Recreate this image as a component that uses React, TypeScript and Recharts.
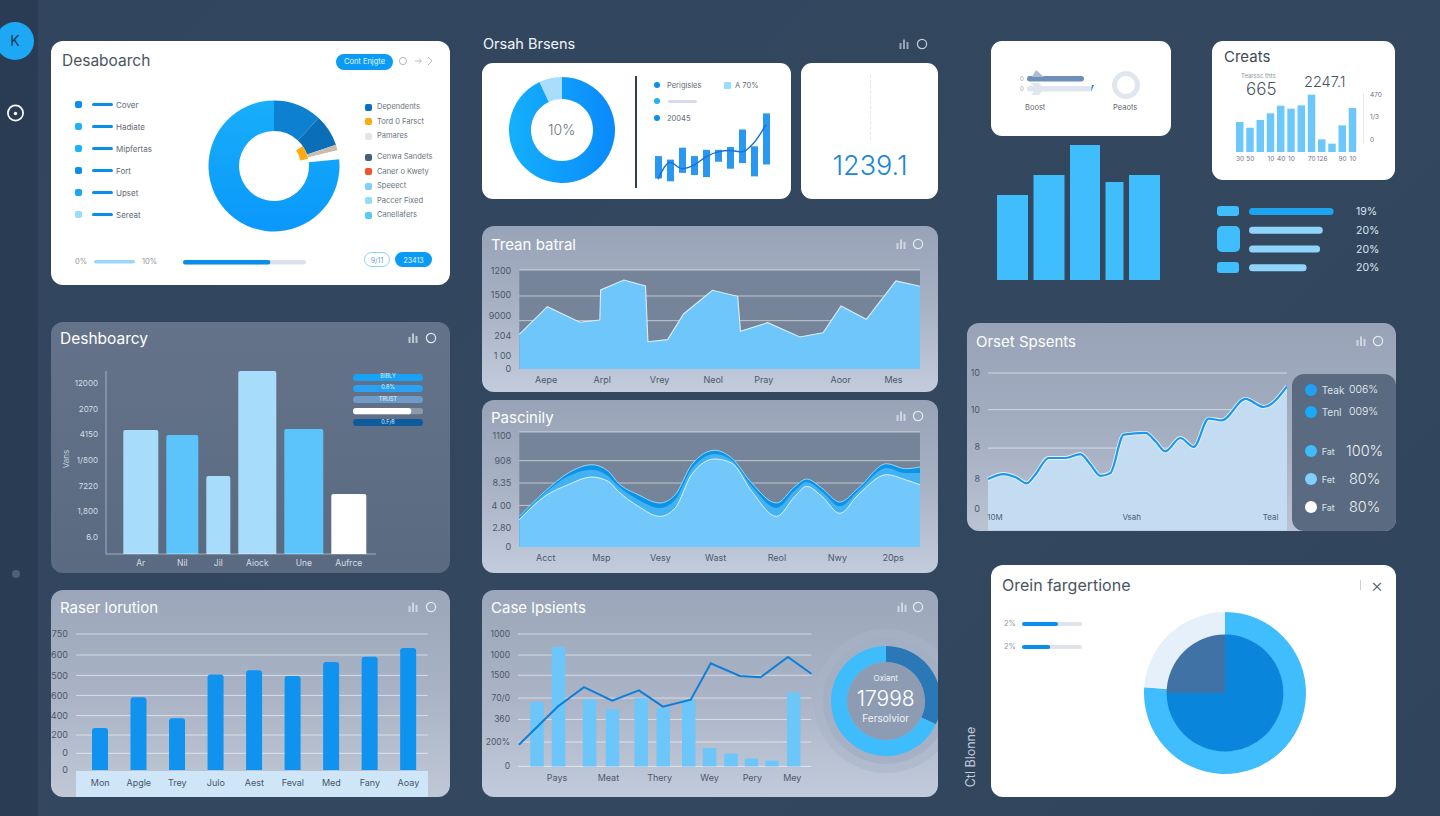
import type { CSSProperties, ReactNode } from 'react';
import {
  Area,
  AreaChart,
  Bar,
  BarChart,
  CartesianGrid,
  Cell,
  ComposedChart,
  Line,
  Pie,
  PieChart,
  Rectangle,
  XAxis,
  YAxis,
} from 'recharts';

const FONT = 'Inter, "Noto Sans", sans-serif';

// Main donut card
const mainSlices = [43, 28, 5, 8, 276];
const mainAccent = [55, 23, 282];
const leftLegend = ['Cover', 'Hadiate', 'Mipfertas', 'Fort', 'Upset', 'Sereat'];
const rightLegend = ['Dependents', 'Tord 0 Farsct', 'Pamares', 'Cenwa Sandets', 'Caner o Kwety', 'Speeect', 'Paccer Fixed', 'Canellafers'];

// Orsah Brsens
const orsahSlices = [335, 25];
const orsahCandles: [number, number][] = [[5, 37], [1, 32], [13, 49], [10, 37], [7, 46], [29, 46], [19, 50], [27, 75], [8, 51], [25, 98]];
const orsahLine = [4, 28, 19, 24, 36, 43, 45, 43, 56, 82];

// Top right
const bigBarValues = [85, 105, 135, 98, 105];
const creatsLabels = ['30', '50', '', '10', '40', '10', '', '70', '126', '', '90', '10'];
const creatsValues = [90, 73, 96, 116, 139, 130, 140, 172, 38, 25, 80, 132];
const creatsTicks = [37, 106, 172];
const creatsTickLabels = ['0', '1/3', '470'];
const rowValues = [94, 82, 79, 64];
const rowPercents = ['19%', '20%', '20%', '20%'];

// Deshboarcy
const deshLabels = ['Ar', 'Nil', 'Jil', 'Aiock', 'Une', 'Aufrce'];
const deshValues = [124, 119, 78, 183, 125, 60];
const deshTicks = [17, 43, 68, 94, 120, 145, 171];
const deshTickLabels = ['6.0', '1,800', '7220', '1/800', '4150', '2070', '12000'];

// Trean batral
const treanX = [0, 7, 15.1, 20.1, 20.3, 26.1, 31.5, 32.1, 37, 41, 48.2, 54.5, 55.2, 62, 70, 75.8, 80.3, 86.6, 94, 100];
const treanValues = [420, 756, 566, 594, 958, 1079, 1006, 331, 356, 667, 954, 881, 457, 562, 388, 440, 764, 602, 1067, 1002];
const treanTicks = [0, 160, 400, 640, 900, 1190];
const treanTickLabels = ['0', '1 00', '204', '9000', '1500', '1200'];
const treanMonthAt = [6.7, 20.7, 35, 48.4, 61, 80.2, 93.4];
const treanMonths = ['Aepe', 'Arpl', 'Vrey', 'Neol', 'Pray', 'Aoor', 'Mes'];

// Pascinily
const pascX = [0, 6.4, 12.2, 18.1, 22.2, 24.7, 29.7, 35.1, 38.9, 43, 48.8, 53, 58, 64.2, 68.8, 71.7, 75.5, 80, 84.6, 91.7, 96.3, 100];
const pascBack = [293, 532, 708, 787, 724, 612, 500, 421, 500, 787, 925, 851, 612, 421, 580, 650, 564, 430, 564, 797, 749, 765];
const pascMid = [277, 516, 676, 740, 676, 580, 453, 373, 453, 746, 889, 829, 580, 373, 542, 622, 532, 389, 539, 756, 708, 708];
const pascFront = [261, 485, 596, 669, 628, 532, 389, 293, 373, 692, 842, 803, 532, 293, 485, 580, 485, 322, 500, 692, 644, 596];
const pascTicks = [0, 188, 398, 612, 826, 1062];
const pascTickLabels = ['0', '2.80', '4 00', '8.35', '908', '1100'];
const pascMonthAt = [6.6, 20.5, 35.2, 49, 64.3, 79.4, 93.3];
const pascMonths = ['Acct', 'Msp', 'Vesy', 'Wast', 'Reol', 'Nwy', '20ps'];

// Orset Spsents
const orsetX = [0, 5.2, 9.1, 13, 15.8, 20.3, 25.9, 30.9, 34.3, 37.6, 40.9, 45.4, 52.7, 56, 59.3, 64.3, 68.8, 73.8, 78.2, 86.1, 92.2, 100];
const orsetValues = [32.6, 35.8, 33.9, 29.9, 35.4, 46, 46, 48.5, 41.7, 34.7, 36.4, 60.8, 61.9, 56.6, 50.2, 58.7, 53, 71, 69.9, 83.5, 78.4, 91.5];
const orsetTicks = [13.6, 32.6, 53, 76.7, 100];
const orsetTickLabels = ['0', '8', '8', '10', '10'];
const orsetXLabels = ['10M', 'Vsah', 'Teal'];
const orsetRows = [
  ['Teak', '006%'],
  ['Tenl', '009%'],
  ['Fat', '100%'],
  ['Fet', '80%'],
  ['Fat', '80%'],
];

// Raser lorution
const raserLabels = ['Mon', 'Apgle', 'Trey', 'Julo', 'Aest', 'Feval', 'Med', 'Fany', 'Aoay'];
const raserValues = [216, 374, 266, 492, 513, 484, 556, 583, 628];
const raserTicks = [0, 86, 180, 280, 384, 487, 592, 700];
const raserTickLabels = ['0', '0', '200', '400', '600', '500', '600', '750'];

// Case lpsients
const caseBarX = [6.5, 13.8, 24.4, 32.2, 42, 49.5, 58.2, 65.3, 72.6, 79.6, 86.6, 94];
const caseBarValues = [486, 902, 509, 433, 514, 441, 501, 139, 96, 60, 43, 559];
const caseLineX = [0.3, 13.6, 22.5, 32.1, 41.2, 49.4, 58.9, 65.7, 75.6, 82.7, 92, 100];
const caseLineValues = [164, 453, 599, 496, 574, 451, 504, 778, 683, 673, 826, 700];
const caseTicks = [0, 184, 355, 516, 688, 841, 1000];
const caseTickLabels = ['0', '200%', '360', '70/0', '1500', '1000', '1000'];
const caseMonthAt = [13.3, 30.8, 48.3, 65.3, 79.9, 93.5];
const caseMonths = ['Pays', 'Meat', 'Thery', 'Wey', 'Pery', 'Mey'];
const gaugeSlices = [115, 245];

// Orein fargertione
const oreinOuter = [274, 86];
const oreinInner = [270, 90];

// Layout details that are not chart values
const deshWidths = [43, 40, 32, 46, 47, 43];
const bigBarWidths = [36.5, 36.5, 35.5, 23.5, 36.5];

const rows = (values: number[]) => values.map((value) => ({ value }));
const labelFor = (ticks: number[], labels: string[]) => (v: number) => labels[ticks.indexOf(v)] ?? '';

const spanTable = (labels: string[], values: number[], spans: number[]) => {
  let at = 0;
  return values.map((value, i) => {
    const row = { name: labels[i] ?? '', value, span: spans[i], mid: at + spans[i] / 2 };
    at += spans[i];
    return row;
  });
};

const spanShape = (colors: string[], gap: number, radius: number) => (p: any) => {
  const w = p.payload.span - gap;
  return (
    <Rectangle
      x={p.x + p.width / 2 - w / 2}
      y={p.y}
      width={w}
      height={p.height}
      radius={[radius, radius, 0, 0]}
      fill={colors[p.index % colors.length]}
    />
  );
};

// the merged x values are close together, so recharts squeezes the band; draw at a set width
const fixedBar = (width: number, fill: string) => (p: any) => {
  if (p.payload.bar == null) return <g />;
  return <Rectangle x={p.x + p.width / 2 - width / 2} y={p.y} width={width} height={p.height} fill={fill} />;
};

const deshTable = spanTable(deshLabels, deshValues, deshWidths);
const bigTable = spanTable([], bigBarValues, bigBarWidths);
const treanData = treanX.map((x, i) => ({ x, value: treanValues[i] }));
const pascData = pascX.map((x, i) => ({ x, back: pascBack[i], mid: pascMid[i], front: pascFront[i] }));
const orsetData = orsetX.map((x, i) => ({ x, value: orsetValues[i] }));
const raserData = raserLabels.map((name, i) => ({ name, value: raserValues[i] }));
const creatsData = creatsLabels.map((name, i) => ({ id: i, name, value: creatsValues[i] }));
const rowData = rowValues.map((value, i) => ({ pct: rowPercents[i], value }));
const candleData = orsahCandles.map((range, i) => ({ id: i, range, line: orsahLine[i] }));
const caseData = [
  ...caseBarX.map((x, i) => ({ x, bar: caseBarValues[i] as number | undefined, line: undefined as number | undefined })),
  ...caseLineX.map((x, i) => ({ x, bar: undefined as number | undefined, line: caseLineValues[i] as number | undefined })),
].sort((a, b) => a.x - b.x);

function At({ x, y, w, h, clip, children }: { x: number; y: number; w: number; h: number; clip?: boolean; children: ReactNode }) {
  return (
    <div style={{ position: 'absolute', left: x, top: y, width: w, height: h, overflow: clip ? 'hidden' : 'visible' }}>{children}</div>
  );
}

function Box({ x, y, w, h, r = 0, bg }: { x: number; y: number; w: number; h: number; r?: number; bg: string }) {
  return <div style={{ position: 'absolute', left: x, top: y, width: w, height: h, borderRadius: r, background: bg }} />;
}

function Txt({
  x,
  y,
  size,
  color,
  anchor = 'start',
  weight = 400,
  children,
  style,
}: {
  x: number;
  y: number;
  size: number;
  color: string;
  anchor?: 'start' | 'middle';
  weight?: number;
  children: ReactNode;
  style?: CSSProperties;
}) {
  return (
    <div
      style={{
        position: 'absolute',
        left: x,
        top: y,
        fontFamily: FONT,
        fontSize: size,
        fontWeight: weight,
        color,
        lineHeight: 1,
        whiteSpace: 'nowrap',
        transform: `translate(${anchor === 'middle' ? '-50%' : '0'}, -50%)`,
        ...style,
      }}
    >
      {children}
    </div>
  );
}

function PanelIcons({ x, c, y, color = '#e6ebf2' }: { x: number; c: number; y: number; color?: string }) {
  return (
    <>
      <svg style={{ position: 'absolute', left: x - 5, top: y - 5 }} width={10} height={10}>
        <rect x={0.5} y={4} width={2} height={6} fill={color} opacity={0.7} />
        <rect x={4} y={0.5} width={2} height={9.5} fill={color} opacity={0.7} />
        <rect x={7.5} y={3} width={2} height={7} fill={color} opacity={0.7} />
      </svg>
      <svg style={{ position: 'absolute', left: c - 6, top: y - 6 }} width={12} height={12}>
        <circle cx={6} cy={6} r={4.6} fill="none" stroke={color} strokeWidth={1.2} />
      </svg>
    </>
  );
}

function Meter({ x, y, w, h, value, max = 100, color, track }: { x: number; y: number; w: number; h: number; value: number; max?: number; color: string; track?: string }) {
  return (
    <At x={x} y={y} w={w} h={h}>
      <BarChart width={w} height={h} data={[{ name: 'm', value }]} layout="vertical" margin={{ top: 0, right: 0, bottom: 0, left: 0 }}>
        <XAxis type="number" hide domain={[0, max]} />
        <YAxis type="category" dataKey="name" hide />
        <Bar
          dataKey="value"
          fill={color}
          barSize={h}
          radius={h / 2}
          background={track ? { fill: track, radius: h / 2 } : undefined}
          isAnimationActive={false}
        />
      </BarChart>
    </At>
  );
}

function Ring({ cx, cy, size, clipW, children }: { cx: number; cy: number; size: number; clipW?: number; children: ReactNode }) {
  return (
    <At x={cx - size / 2} y={cy - size / 2} w={clipW ?? size} h={size} clip>
      <PieChart width={size} height={size} margin={{ top: 0, right: 0, bottom: 0, left: 0 }}>
        {children}
      </PieChart>
    </At>
  );
}

const LIGHT_PANEL = 'linear-gradient(180deg, #98a3b8 0%, #a6b0c3 45%, #c2ccdc 100%)';
const tickDark = { fontSize: 9, fill: '#4c586b', fontFamily: FONT };
const gridLine = 'rgba(255,255,255,0.55)';
const pieBase = { dataKey: 'value', startAngle: 90, endAngle: -270, stroke: 'none', isAnimationActive: false } as const;

export default function App() {
  return (
    <div
      style={{
        position: 'absolute',
        left: 0,
        top: 0,
        width: 1440,
        height: 816,
        overflow: 'hidden',
        background: 'linear-gradient(135deg, #31455e 0%, #33475f 60%, #30445c 100%)',
      }}
    >
      {/* sidebar */}
      <Box x={0} y={0} w={38} h={816} bg="#2a3c53" />
      <Box x={-4} y={22} w={38} h={38} r={19} bg="#1ca8f5" />
      <Txt x={15} y={41} size={14} color="#17395a" anchor="middle">K</Txt>
      <svg style={{ position: 'absolute', left: 5, top: 103 }} width={20} height={20}>
        <circle cx={10.5} cy={10} r={7.6} fill="none" stroke="#fff" strokeWidth={1.7} />
        <circle cx={10.5} cy={10.5} r={1.7} fill="#fff" />
      </svg>
      <Box x={12} y={570} w={8} h={8} r={4} bg="#4a5f78" />

      {/* Desaboarch */}
      <Box x={51} y={41} w={399} h={244} r={12} bg="#fff" />
      <Txt x={62} y={61} size={15.5} color="#4a5560">Desaboarch</Txt>
      <Box x={336} y={54} w={57} h={16} r={8} bg="#0a9cf5" />
      <Txt x={364.5} y={62} size={7.5} color="#e8f6ff" anchor="middle">Cont Enjgte</Txt>
      <svg style={{ position: 'absolute', left: 397, top: 54 }} width={40} height={14}>
        <circle cx={6} cy={7} r={3.6} fill="none" stroke="#9aa4af" strokeWidth={0.8} />
        <path d="M18 7h6M22 4.5l2.5 2.5-2.5 2.5M31 3l4 4-4 4" fill="none" stroke="#a3adb7" strokeWidth={0.8} />
      </svg>
      {leftLegend.map((name, i) => (
        <div key={name}>
          <Box x={75} y={101 + i * 22} w={7} h={7} r={2} bg={['#0a8fe8', '#1fb2f7', '#1fb2f7', '#0a8fe8', '#18a7f5', '#9adcfb'][i]} />
          <Box x={92} y={103.3 + i * 22} w={21} h={3} r={1.5} bg="#0a8fe8" />
          <Txt x={116} y={105 + i * 22} size={8} color="#5f6a75">{name}</Txt>
        </div>
      ))}
      <Ring cx={274} cy={165.5} size={134}>
        <defs>
          <linearGradient id="mainBlue" x1="0" y1="0" x2="0" y2="1">
            <stop offset="0%" stopColor="#18aefa" />
            <stop offset="100%" stopColor="#0a98fb" />
          </linearGradient>
        </defs>
        <Pie {...pieBase} data={rows(mainSlices)} innerRadius={35} outerRadius={65.5}>
          {['#0d80d2', '#0a6fb8', '#c9bdae', '#ffffff', 'url(#mainBlue)'].map((c) => (
            <Cell key={c} fill={c} />
          ))}
        </Pie>
        <Pie {...pieBase} data={rows(mainAccent)} innerRadius={27} outerRadius={35}>
          {['#ffffff00', '#ffaa10', '#ffffff00'].map((c, i) => (
            <Cell key={i} fill={c} />
          ))}
        </Pie>
      </Ring>
      {rightLegend.map((name, i) => (
        <div key={name}>
          <Box
            x={365}
            y={[103.5, 118, 132.5, 153.5, 168, 182.5, 197, 211.5][i]}
            w={7}
            h={7}
            r={2}
            bg={['#0a6fc0', '#ffaa10', '#e4e4e6', '#45607a', '#f5502a', '#7fd0fa', '#8fdcfb', '#5cc8f8'][i]}
          />
          <Txt x={377} y={[107, 122, 136, 157, 172, 186, 201, 215][i]} size={7.5} color="#6a747e">{name}</Txt>
        </div>
      ))}
      <Txt x={75} y={262} size={7.5} color="#8d97a2">0%</Txt>
      <Meter x={94} y={260} w={41} h={4} value={100} color="#9ad6f7" />
      <Txt x={142} y={262} size={7.5} color="#8d97a2">10%</Txt>
      <Meter x={183} y={260} w={123} h={5} value={71} color="#0a8fe8" track="#dde2ea" />
      <div style={{ position: 'absolute', left: 364, top: 252, width: 26, height: 15, borderRadius: 8, border: '1px solid #8fd0f5', boxSizing: 'border-box' }} />
      <Txt x={377} y={260} size={7} color="#66a8d0" anchor="middle">9/11</Txt>
      <Box x={395} y={252} w={37} h={15} r={8} bg="#0a9cf5" />
      <Txt x={413.5} y={260} size={7} color="#e8f6ff" anchor="middle">23413</Txt>

      {/* Orsah Brsens */}
      <Txt x={483} y={44} size={14.5} color="#f2f5f8">Orsah Brsens</Txt>
      <PanelIcons x={904} c={922} y={44} color="#c5cfdb" />
      <Box x={482} y={63} w={309} h={136} r={11} bg="#fff" />
      <Ring cx={561.7} cy={130} size={108}>
        <defs>
          <linearGradient id="orsahBlue" x1="0" y1="0" x2="1" y2="0">
            <stop offset="0%" stopColor="#14b0fc" />
            <stop offset="100%" stopColor="#0a8afb" />
          </linearGradient>
        </defs>
        <Pie {...pieBase} data={rows(orsahSlices)} innerRadius={31} outerRadius={53}>
          <Cell fill="url(#orsahBlue)" />
          <Cell fill="#a8defc" />
        </Pie>
      </Ring>
      <Txt x={561.7} y={130} size={14} color="#6b7680" anchor="middle" weight={300}>10%</Txt>
      <Box x={635} y={76} w={2} h={112} bg="#2c3f55" />
      <Box x={654} y={82} w={6} h={6} r={3} bg="#0a8ff0" />
      <Txt x={667} y={86} size={7.5} color="#5f6a75">Perigisles</Txt>
      <Box x={723.5} y={82} w={7} h={7} r={1} bg="#9adcfb" />
      <Txt x={735} y={86} size={7.5} color="#5f6a75">A 70%</Txt>
      <Box x={654} y={98} w={6} h={6} r={3} bg="#1fb2f7" />
      <Box x={668} y={99.5} w={29} h={3} r={1.5} bg="#d5dbe8" />
      <Box x={654} y={115} w={6} h={6} r={3} bg="#0a8ff0" />
      <Txt x={667} y={119} size={7.5} color="#5f6a75">20045</Txt>
      <At x={652} y={111.7} w={120} h={70}>
        <ComposedChart width={120} height={70} data={candleData} margin={{ top: 0, right: 0, bottom: 0, left: 0 }}>
          <XAxis dataKey="id" hide />
          <YAxis hide domain={[0, 100]} />
          <Bar dataKey="range" fill="#2a97f0" barSize={7} isAnimationActive={false} />
          <Line dataKey="line" type="monotone" stroke="#1a6fd0" strokeWidth={1.4} dot={false} isAnimationActive={false} />
        </ComposedChart>
      </At>

      <Box x={801} y={63} w={137} h={136} r={11} bg="#fff" />
      <div style={{ position: 'absolute', left: 870, top: 75, height: 65, borderLeft: '1px dashed #e2e6ea' }} />
      <Txt x={870} y={165} size={27} color="#1c86d8" anchor="middle" weight={300}>1239.1</Txt>

      {/* small card and big bars */}
      <Box x={991} y={41} w={180} h={95} r={11} bg="#fff" />
      <Txt x={1020} y={79} size={6} color="#9aa4af">0</Txt>
      <Txt x={1020} y={89} size={6} color="#9aa4af">0</Txt>
      <Meter x={1027} y={76} w={57} h={6} value={100} color="#6d8fb8" />
      <Meter x={1027} y={86} w={65} h={6} value={100} color="#dfe6ef" />
      <svg style={{ position: 'absolute', left: 1028, top: 70 }} width={72} height={30}>
        <path d="M8 0l8 7H4z" fill="#a9bdd6" />
        <path d="M3 13h8l5 6-5 6H3l5-6z" fill="#dfe6ef" />
        <path d="M64 15l2 0-3 7z" fill="#1c7fd0" />
      </svg>
      <Txt x={1025} y={108} size={7.5} color="#5f6a75">Boost</Txt>
      <Ring cx={1126} cy={85} size={30}>
        <Pie {...pieBase} data={rows([100])} innerRadius={9} outerRadius={14} fill="#dfe6ee" />
      </Ring>
      <Txt x={1113} y={108} size={7.5} color="#5f6a75">Peaots</Txt>
      <At x={994.2} y={145.3} w={169} h={135}>
        <BarChart width={169} height={135} data={bigTable} margin={{ top: 0, right: 0, bottom: 0, left: 0 }}>
          <XAxis type="number" dataKey="mid" domain={[0, 169]} hide />
          <YAxis hide domain={[0, 135]} />
          <Bar dataKey="value" barSize={10} shape={spanShape(['#3fbdfc'], 5.5, 0)} isAnimationActive={false} />
        </BarChart>
      </At>

      {/* Creats */}
      <Box x={1212} y={41} w={183} h={139} r={11} bg="#fff" />
      <Txt x={1224} y={56} size={15} color="#3e4a55">Creats</Txt>
      <Txt x={1241} y={76} size={6} color="#8d97a2">Tearssc thts</Txt>
      <Txt x={1246} y={89} size={17} color="#4a5560" weight={300}>665</Txt>
      <Txt x={1304} y={82} size={14.5} color="#4a5560" weight={300}>2247.1</Txt>
      <Box x={1363} y={93} w={1} h={50} bg="#e6eaef" />
      <At x={1235} y={86.3} w={147} h={80}>
        <BarChart width={147} height={80} data={creatsData} margin={{ top: 6, right: 0, bottom: 0, left: 0 }}>
          <XAxis
            dataKey="id"
            height={14}
            interval={0}
            axisLine={false}
            tickLine={false}
            tickSize={2}
            tick={{ fontSize: 6.5, fill: '#6b7785', fontFamily: FONT }}
            tickFormatter={(i: number) => creatsLabels[i]}
          />
          <YAxis
            orientation="right"
            width={24}
            domain={[0, 180]}
            ticks={creatsTicks}
            interval={0}
            axisLine={false}
            tickLine={false}
            tickMargin={6}
            tick={{ fontSize: 6.5, fill: '#6b7785', fontFamily: FONT }}
            tickFormatter={labelFor(creatsTicks, creatsTickLabels)}
          />
          <Bar dataKey="value" fill="#6cc8fb" barSize={7.5} isAnimationActive={false} />
        </BarChart>
      </At>

      {/* progress rows */}
      <Box x={1217} y={205.7} w={22} h={10.5} r={3} bg="#3fbdfc" />
      <Box x={1216.5} y={226} w={23} h={26} r={5} bg="#3fbdfc" />
      <Box x={1217} y={262} w={22} h={11} r={3} bg="#3fbdfc" />
      <At x={1249} y={201.6} w={130} h={75}>
        <BarChart width={130} height={75} data={rowData} layout="vertical" margin={{ top: 0, right: 0, bottom: 0, left: 0 }}>
          <XAxis type="number" hide domain={[0, 100]} />
          <YAxis
            type="category"
            dataKey="pct"
            orientation="right"
            width={40}
            axisLine={false}
            tickLine={false}
            tickMargin={11}
            interval={0}
            tick={{ fontSize: 10.5, fill: '#dbe6f0', fontFamily: FONT }}
          />
          <Bar dataKey="value" barSize={7} radius={3.5} isAnimationActive={false}>
            {rowValues.map((_, i) => (
              <Cell key={i} fill={i === 0 ? '#1ea4ef' : '#8fd5fa'} />
            ))}
          </Bar>
        </BarChart>
      </At>

      {/* Deshboarcy */}
      <Box x={51} y={322} w={399} h={251} r={12} bg="linear-gradient(180deg, #647389, #5a6a80)" />
      <Txt x={60} y={339} size={15.5} color="#fff">Deshboarcy</Txt>
      <PanelIcons x={413} c={430.7} y={338} />
      <Txt x={66} y={459} size={8} color="#c5d0dd" anchor="middle" style={{ transform: 'translate(-50%, -50%) rotate(-90deg)' }}>Vans</Txt>
      <At x={70} y={365} w={306} h={207}>
        <BarChart width={306} height={207} data={deshTable} margin={{ top: 6, right: 0, bottom: 0, left: 0 }}>
          <XAxis
            type="number"
            dataKey="mid"
            domain={[0, 251]}
            padding={{ left: 13.3, right: 5.7 }}
            ticks={deshTable.map((r) => r.mid)}
            interval={0}
            height={18}
            tickLine={false}
            tickSize={4}
            stroke="rgba(255,255,255,0.45)"
            tick={{ fontSize: 8.5, fill: '#d5dde7', fontFamily: FONT }}
            tickFormatter={labelFor(deshTable.map((r) => r.mid), deshLabels)}
          />
          <YAxis
            width={36}
            domain={[0, 183]}
            ticks={deshTicks}
            interval={0}
            tickLine={false}
            stroke="rgba(255,255,255,0.45)"
            tick={{ fontSize: 8, fill: '#d5dde7', fontFamily: FONT }}
            tickFormatter={labelFor(deshTicks, deshTickLabels)}
          />
          <Bar
            dataKey="value"
            barSize={10}
            shape={spanShape(['#a8dcfb', '#5cc4fb', '#a8dcfb', '#a8dcfb', '#5cc4fb', '#ffffff'], 8, 2)}
            isAnimationActive={false}
          />
        </BarChart>
      </At>
      {[
        ['#18a2f5', 'BIBLY'],
        ['#2aa0f2', '0.8%'],
        ['#6f9bc7', 'TRUST'],
      ].map(([bg, text], i) => (
        <div key={text}>
          <Box x={352.7} y={373.5 + i * 11.4} w={70.3} h={7} r={3.5} bg={bg} />
          <Txt x={388} y={377 + i * 11.4} size={5.5} color="#dff2ff" anchor="middle">{text}</Txt>
        </div>
      ))}
      <Meter x={352.7} y={407.5} w={70.3} h={7} value={83} color="#ffffff" track="#8d99a8" />
      <Box x={352.7} y={419} w={70.3} h={7} r={3.5} bg="#0d5a9c" />
      <Txt x={388} y={422.7} size={5.5} color="#dff2ff" anchor="middle">0.F/8</Txt>

      {/* Trean batral */}
      <Box x={482} y={226} w={456} h={166} r={12} bg={LIGHT_PANEL} />
      <Txt x={491} y={244} size={15} color="#fff">Trean batral</Txt>
      <PanelIcons x={901} c={918.3} y={244} />
      <At x={489} y={265} w={431} h={129}>
        <AreaChart width={431} height={129} data={treanData} margin={{ top: 5, right: 0, bottom: 0, left: 0 }}>
          <CartesianGrid vertical={false} fill="#768499" stroke={gridLine} horizontalValues={[586, 885, 1200]} />
          <XAxis
            type="number"
            dataKey="x"
            domain={[0, 100]}
            ticks={treanMonthAt}
            interval={0}
            height={25}
            tickSize={6}
            axisLine={false}
            tickLine={false}
            tick={tickDark}
            tickFormatter={labelFor(treanMonthAt, treanMonths)}
          />
          <YAxis
            width={30.3}
            domain={[0, 1200]}
            ticks={treanTicks}
            interval={0}
            axisLine={false}
            tickLine={false}
            tick={tickDark}
            tickFormatter={labelFor(treanTicks, treanTickLabels)}
          />
          <Area dataKey="value" type="linear" fill="#6fc6fa" fillOpacity={1} stroke="#dceefa" strokeWidth={1.1} isAnimationActive={false} />
        </AreaChart>
      </At>

      {/* Pascinily */}
      <Box x={482} y={400} w={456} h={173} r={12} bg={LIGHT_PANEL} />
      <Txt x={491} y={417} size={15} color="#fff">Pascinily</Txt>
      <PanelIcons x={901} c={918.3} y={415.7} />
      <At x={489} y={427.3} w={431} h={145}>
        <AreaChart width={431} height={145} data={pascData} margin={{ top: 5, right: 0, bottom: 0, left: 0 }}>
          <CartesianGrid vertical={false} fill="#768499" stroke={gridLine} horizontalValues={[398, 612, 826, 1100]} />
          <XAxis
            type="number"
            dataKey="x"
            domain={[0, 100]}
            ticks={pascMonthAt}
            interval={0}
            height={25}
            tickSize={6}
            axisLine={false}
            tickLine={false}
            tick={tickDark}
            tickFormatter={labelFor(pascMonthAt, pascMonths)}
          />
          <YAxis
            width={30.3}
            domain={[0, 1100]}
            ticks={pascTicks}
            interval={0}
            axisLine={false}
            tickLine={false}
            tick={tickDark}
            tickFormatter={labelFor(pascTicks, pascTickLabels)}
          />
          <Area dataKey="back" type="monotone" fill="#0c93e8" fillOpacity={1} stroke="#8fd8fb" strokeWidth={1} isAnimationActive={false} />
          <Area dataKey="mid" type="monotone" fill="#42b2f2" fillOpacity={1} stroke="none" isAnimationActive={false} />
          <Area dataKey="front" type="monotone" fill="#72c8fa" fillOpacity={1} stroke="#dff1fc" strokeWidth={1} isAnimationActive={false} />
        </AreaChart>
      </At>

      {/* Orset Spsents */}
      <Box x={967} y={323} w={429} h={208} r={12} bg="linear-gradient(180deg, #98a3b8 0%, #a3adc0 50%, #b9c3d3 100%)" />
      <Txt x={976} y={341} size={15} color="#fff">Orset Spsents</Txt>
      <PanelIcons x={1361} c={1378} y={340.7} />
      <At x={967.7} y={367.3} w={319} h={163.4}>
        <ComposedChart width={319} height={163.4} data={orsetData} margin={{ top: 6, right: 0, bottom: 0, left: 0 }}>
          <CartesianGrid vertical={false} stroke={gridLine} horizontalValues={[52.3, 76.7, 100]} />
          <XAxis type="number" dataKey="x" domain={[0, 100]} height={0} hide />
          <YAxis
            width={20}
            domain={[0, 100]}
            ticks={orsetTicks}
            interval={0}
            axisLine={false}
            tickLine={false}
            tick={tickDark}
            tickFormatter={labelFor(orsetTicks, orsetTickLabels)}
          />
          <Area dataKey="value" type="monotone" fill="#c3dcf2" fillOpacity={1} stroke="#e8f3fb" strokeWidth={4} isAnimationActive={false} />
          <Line dataKey="value" type="monotone" stroke="#1c97ec" strokeWidth={2.2} dot={false} isAnimationActive={false} />
        </ComposedChart>
      </At>
      {/* these ticks sit on top of the area fill, which axis ticks cannot do */}
      {orsetXLabels.map((name, i) => (
        <Txt key={name} x={[995, 1131.7, 1270.7][i]} y={517} size={8} color="#4f5f74" anchor="middle">{name}</Txt>
      ))}
      <Box x={1292} y={374} w={104} h={157} r={12} bg="#5a6a80" />
      {orsetRows.map(([name, pct], i) => (
        <div key={i}>
          <Box
            x={1304.7}
            y={[384, 406, 445, 473, 501][i]}
            w={12}
            h={12}
            r={6}
            bg={['#1fa0f5', '#18aaf9', '#3ebcfb', '#7fd0fb', '#ffffff'][i]}
          />
          <Txt x={1321.7} y={[390, 412, 451, 479, 507][i]} size={i < 2 ? 10 : 9} color="#dce4ec">{name}</Txt>
          <Txt x={i === 2 ? 1346 : 1349} y={[390, 412, 451, 479, 507][i]} size={i < 2 ? 10.5 : 14.5} color="#eef2f6" weight={300}>{pct}</Txt>
        </div>
      ))}

      {/* Raser lorution */}
      <Box x={51} y={590} w={399} h={207} r={12} bg="linear-gradient(180deg, #9ba6ba 0%, #a9b3c5 50%, #c0c8d6 100%)" />
      <Txt x={60} y={607} size={15} color="#fff">Raser lorution</Txt>
      <PanelIcons x={413} c={430.7} y={606.7} />
      <Box x={76} y={771} w={351.7} h={26} bg="#cfe6f8" />
      <At x={46} y={628.3} w={381.7} h={169}>
        <BarChart width={381.7} height={169} data={raserData} margin={{ top: 6, right: 0, bottom: 0, left: 0 }}>
          <CartesianGrid vertical={false} stroke={gridLine} horizontalValues={raserTicks.slice(1)} />
          <XAxis
            dataKey="name"
            height={27}
            interval={0}
            padding={{ left: 5, right: 0 }}
            axisLine={false}
            tickLine={false}
            tickMargin={4}
            tick={{ ...tickDark, fill: '#46566c' }}
          />
          <YAxis
            width={30}
            domain={[0, 700]}
            ticks={raserTicks}
            interval={0}
            axisLine={false}
            tickLine={false}
            tick={tickDark}
            tickFormatter={labelFor(raserTicks, raserTickLabels)}
          />
          <Bar dataKey="value" fill="#0f93ee" barSize={16} radius={[3, 3, 0, 0]} isAnimationActive={false} />
        </BarChart>
      </At>

      {/* Case lpsients */}
      <Box x={482} y={590} w={456} h={207} r={12} bg="linear-gradient(180deg, #9ba6ba 0%, #a9b3c5 50%, #c2cbdb 100%)" />
      <Txt x={491} y={607} size={15} color="#fff">Case lpsients</Txt>
      <PanelIcons x={901.7} c={918.3} y={606.7} />
      <At x={483.3} y={628.3} w={328.4} h={163.4}>
        <ComposedChart width={328.4} height={163.4} data={caseData} margin={{ top: 6, right: 0, bottom: 0, left: 0 }}>
          <CartesianGrid vertical={false} stroke={gridLine} horizontalValues={caseTicks} />
          <XAxis
            type="number"
            dataKey="x"
            domain={[0, 100]}
            ticks={caseMonthAt}
            interval={0}
            height={25}
            tickSize={6}
            axisLine={false}
            tickLine={false}
            tick={tickDark}
            tickFormatter={labelFor(caseMonthAt, caseMonths)}
          />
          <YAxis
            width={35}
            domain={[0, 1000]}
            ticks={caseTicks}
            interval={0}
            axisLine={false}
            tickLine={false}
            tick={{ ...tickDark, fontSize: 8.5 }}
            tickFormatter={labelFor(caseTicks, caseTickLabels)}
          />
          <Bar dataKey="bar" barSize={13.5} shape={fixedBar(13.5, '#6cc6fa')} isAnimationActive={false} />
          <Line dataKey="line" type="linear" connectNulls stroke="#0d7fd8" strokeWidth={2} dot={false} isAnimationActive={false} />
        </ComposedChart>
      </At>
      <Ring cx={885.7} cy={701} size={146} clipW={125.3}>
        <Pie {...pieBase} data={rows([100])} outerRadius={72} fill="#aab5c8" fillOpacity={0.55} />
        <Pie {...pieBase} data={rows([100])} outerRadius={63} fill="#a2aec3" fillOpacity={0.7} />
        <Pie {...pieBase} data={rows([100])} outerRadius={39} fill="#8e9cb3" />
        <Pie {...pieBase} data={rows(gaugeSlices)} innerRadius={39} outerRadius={55}>
          <Cell fill="#2a79b6" />
          <Cell fill="#3fbcfc" />
        </Pie>
      </Ring>
      <Txt x={885.7} y={678} size={8} color="#eef2f6" anchor="middle">Oxiant</Txt>
      <Txt x={885.7} y={698} size={21} color="#fff" anchor="middle" weight={300}>17998</Txt>
      <Txt x={885.7} y={718} size={10} color="#eef2f6" anchor="middle">Fersolvior</Txt>

      {/* Orein fargertione */}
      <Box x={991} y={565} w={405} h={232} r={12} bg="#fff" />
      <Txt x={1002} y={585} size={16} color="#4a5560">Orein fargertione</Txt>
      <Box x={1360} y={580} w={1} h={10} bg="#c8ced5" />
      <Txt x={1377} y={585} size={19} color="#5a6570" anchor="middle" weight={300}>×</Txt>
      <Txt x={1004} y={624} size={7.5} color="#8d97a2">2%</Txt>
      <Meter x={1022} y={622} w={60} h={4.5} value={60} color="#0a8fe8" track="#e0e3e8" />
      <Txt x={1004} y={647} size={7.5} color="#8d97a2">2%</Txt>
      <Meter x={1022} y={645} w={60} h={4.5} value={47} color="#0a8fe8" track="#e0e3e8" />
      <Ring cx={1225} cy={693.3} size={166}>
        <Pie {...pieBase} data={rows(oreinOuter)} innerRadius={58} outerRadius={81}>
          <Cell fill="#40bdfd" />
          <Cell fill="#e6f0fa" />
        </Pie>
        <Pie {...pieBase} data={rows(oreinInner)} outerRadius={58.4}>
          <Cell fill="#0a85dc" />
          <Cell fill="#4172a5" />
        </Pie>
      </Ring>
      <Txt
        x={971}
        y={757}
        size={12.5}
        color="#c0ccd8"
        anchor="middle"
        style={{ transform: 'translate(-50%, -50%) rotate(-90deg)' }}
      >
        Ctl Blonne
      </Txt>
    </div>
  );
}
